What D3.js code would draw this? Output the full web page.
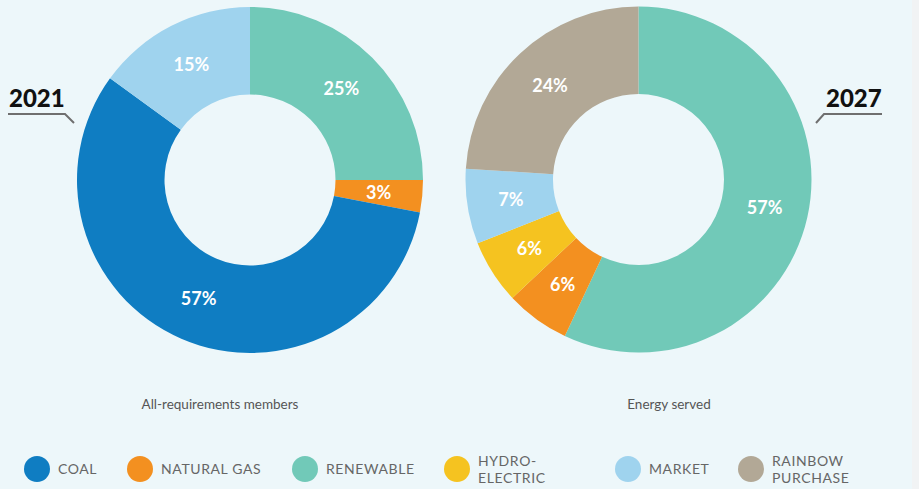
<!DOCTYPE html>
<html>
<head>
<meta charset="utf-8">
<script src="https://cdn.jsdelivr.net/npm/d3@7"></script>
<style>
  html, body { margin: 0; padding: 0; background: #edf7fa; }
  svg { display: block; font-family: Lato, "Open Sans", sans-serif; }
</style>
</head>
<body>
<svg id="chart" width="919" height="489"></svg>
<script>
// categories and colours
const categories = ["COAL", "NATURAL GAS", "RENEWABLE", "HYDRO-ELECTRIC", "MARKET", "RAINBOW PURCHASE"];
const legendLines = [["COAL"], ["NATURAL GAS"], ["RENEWABLE"], ["HYDRO-", "ELECTRIC"], ["MARKET"], ["RAINBOW", "PURCHASE"]];
const colors = ["#0f7dc2", "#f39020", "#71c9b8", "#f5c320", "#9fd3ee", "#b2a896"];

// slices in clockwise order from 12 o'clock
const cats2021 = ["RENEWABLE", "NATURAL GAS", "COAL", "MARKET"];
const vals2021 = [25, 3, 57, 15];
const cats2027 = ["RENEWABLE", "NATURAL GAS", "HYDRO-ELECTRIC", "MARKET", "RAINBOW PURCHASE"];
const vals2027 = [57, 6, 6, 7, 24];

const years = ["2021", "2027"];
const captions = ["All-requirements members", "Energy served"];

const width = 919, height = 489;
const svg = d3.select("#chart");

svg.append("rect").attr("width", width).attr("height", height).attr("fill", "#edf7fa");
svg.append("rect").attr("x", 912).attr("width", 7).attr("height", height).attr("fill", "#f1f3f4");

const color = d3.scaleOrdinal().domain(categories).range(colors);
const outerR = 173, innerR = 85.5;
const arc = d3.arc().innerRadius(innerR).outerRadius(outerR);
const pie = d3.pie().sort(null).value(d => d.value);

function drawDonut(cx, cy, cats, vals) {
  const data = cats.map((c, i) => ({ cat: c, value: vals[i] }));
  const g = svg.append("g").attr("transform", `translate(${cx},${cy})`);
  const arcs = pie(data);
  g.selectAll("path")
    .data(arcs)
    .join("path")
    .attr("d", arc)
    .attr("fill", d => color(d.data.cat));
  g.selectAll("text")
    .data(arcs)
    .join("text")
    .attr("transform", d => `translate(${arc.centroid(d)})`)
    .attr("text-anchor", "middle")
    .attr("dy", "0.36em")
    .attr("fill", "#fff")
    .attr("font-size", 18)
    .attr("font-weight", 700)
    .text(d => `${d.data.value}%`);
}

drawDonut(250, 180, cats2021, vals2021);
drawDonut(638.5, 179.5, cats2027, vals2027);

// year tags with leader lines
svg.append("text")
  .attr("x", 9).attr("y", 107)
  .attr("font-size", 24).attr("font-weight", 900).attr("fill", "#111")
  .text(years[0]);
svg.append("path")
  .attr("d", "M8,114H65L74,123")
  .attr("fill", "none").attr("stroke", "#6f6f6f").attr("stroke-width", 2);

svg.append("text")
  .attr("x", 826).attr("y", 107)
  .attr("font-size", 24).attr("font-weight", 900).attr("fill", "#111")
  .text(years[1]);
svg.append("path")
  .attr("d", "M816,123L824,114H882")
  .attr("fill", "none").attr("stroke", "#6f6f6f").attr("stroke-width", 2);

// captions under donuts
svg.selectAll("text.caption")
  .data(captions)
  .join("text")
  .attr("class", "caption")
  .attr("x", (d, i) => [220, 669][i])
  .attr("y", 409)
  .attr("text-anchor", "middle")
  .attr("font-size", 13.5)
  .attr("fill", "#555")
  .text(d => d);

// legend
const legendX = [37, 140, 305, 457, 628, 751];
const legend = svg.selectAll("g.legend")
  .data(categories)
  .join("g")
  .attr("class", "legend")
  .attr("transform", (d, i) => `translate(${legendX[i]},469)`);
legend.append("circle")
  .attr("r", 13)
  .attr("fill", d => color(d));
legend.append("text")
  .attr("x", 21)
  .attr("font-size", 14)
  .attr("letter-spacing", 0.6)
  .attr("fill", "#666")
  .each(function (d, i) {
    const lines = legendLines[i];
    const t = d3.select(this);
    lines.forEach((ln, j) => {
      t.append("tspan")
        .attr("x", 21)
        .attr("y", lines.length === 1 ? 5 : -3 + j * 16.5)
        .text(ln);
    });
  });
</script>
</body>
</html>
